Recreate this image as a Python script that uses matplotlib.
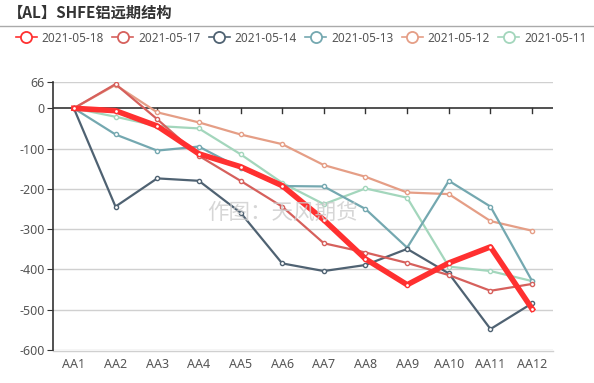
import numpy as np
import matplotlib.pyplot as plt
from matplotlib.lines import Line2D

plt.rcParams['font.family'] = ['Noto Sans', 'Noto Sans CJK SC', 'DejaVu Sans']

contracts = ['AA1', 'AA2', 'AA3', 'AA4', 'AA5', 'AA6', 'AA7', 'AA8', 'AA9', 'AA10', 'AA11', 'AA12']
dates = ['2021-05-18', '2021-05-17', '2021-05-14', '2021-05-13', '2021-05-12', '2021-05-11']

s_0518 = [0, -6, -44, -113, -145, -192, -277, -374, -438, -384, -344, -498]
s_0517 = [0, 60, -27, -118, -180, -244, -335, -358, -384, -414, -453, -436]
s_0514 = [0, -244, -174, -180, -259, -385, -404, -389, -349, -410, -548, -484]
s_0513 = [0, -65, -105, -95, -149, -193, -194, -250, -346, -180, -244, -429]
s_0512 = [0, 58, -10, -35, -65, -89, -141, -170, -209, -213, -280, -304]
s_0511 = [0, -21, -44, -50, -114, -185, -238, -199, -222, -393, -404, -429]

series = [s_0518, s_0517, s_0514, s_0513, s_0512, s_0511]
colors = ['#ff3030', '#d6605c', '#4f6272', '#74a8b0', '#e59e86', '#a3d6bc']
widths = [4, 1.6, 1.6, 1.6, 1.6, 1.6]

yticks = [66, 0, -100, -200, -300, -400, -500, -600]

fig = plt.figure(figsize=(5.94, 3.83), dpi=100)
ax = fig.add_axes([53 / 594, 33 / 383, 500 / 594, 268.3 / 383])

x = np.arange(len(contracts))
# draw oldest first so the latest date sits on top
for vals, c, w in reversed(list(zip(series, colors, widths))):
    ax.plot(x, vals, color=c, lw=w, marker='o', ms=3, mfc='white', mec=c, mew=1, zorder=3)

ax.set_xlim(-0.5, len(contracts) - 0.5)
ax.set_ylim(-600, 66)
ax.set_yticks(yticks)
ax.set_yticklabels([str(v) for v in yticks])
for v in yticks:
    if v != 0:
        ax.axhline(v, color='#d0d0d0', lw=1, zorder=1)
ax.axhline(-603, color='#d0d0d0', lw=1, zorder=1, clip_on=False)

# zero line acts as the category axis, with ticks at each category
ax.axhline(0, color='#333333', lw=1.2, zorder=2)
for xi in x[1:]:
    ax.plot([xi, xi], [0, -12], color='#333333', lw=1, zorder=2)

ax.set_xticks(x)
ax.set_xticklabels(contracts)
ax.tick_params(axis='x', length=0, pad=6, labelsize=9, labelcolor='#555555')
ax.tick_params(axis='y', length=4, color='#333333', labelsize=9, labelcolor='#555555', pad=2)
for side in ['top', 'right', 'bottom']:
    ax.spines[side].set_visible(False)
ax.spines['left'].set_color('#333333')
ax.spines['left'].set_linewidth(1.2)

# watermark
fig.text(282 / 594, 1 - 213 / 383, '作图：天风期货', fontsize=15.5, color='#cccccc',
         family=['Noto Sans CJK SC'], ha='center', va='center', alpha=0.8, zorder=0)

# title and divider
fig.text(8 / 594, 1 - 13 / 383, '【AL】SHFE铝远期结构', fontsize=11, fontweight='bold',
         family=['Noto Sans CJK SC'], color='#333333', va='center')
fig.add_artist(Line2D([0, 1], [1 - 26 / 383, 1 - 26 / 383], color='#aaaaaa', lw=1))

handles = [Line2D([0], [0], color=c, lw=1.2, marker='o', ms=8, mfc='white', mec=c, mew=1.3)
           for c in colors]
fig.legend(handles, dates, loc='center', bbox_to_anchor=(301 / 594, 1 - 38 / 383), ncol=6,
           frameon=False, prop={'family': 'Noto Sans', 'size': 8.5}, handlelength=1.8,
           handletextpad=0.4, columnspacing=0.7, labelcolor='#555555')

fig.savefig('out.png', dpi=100)
